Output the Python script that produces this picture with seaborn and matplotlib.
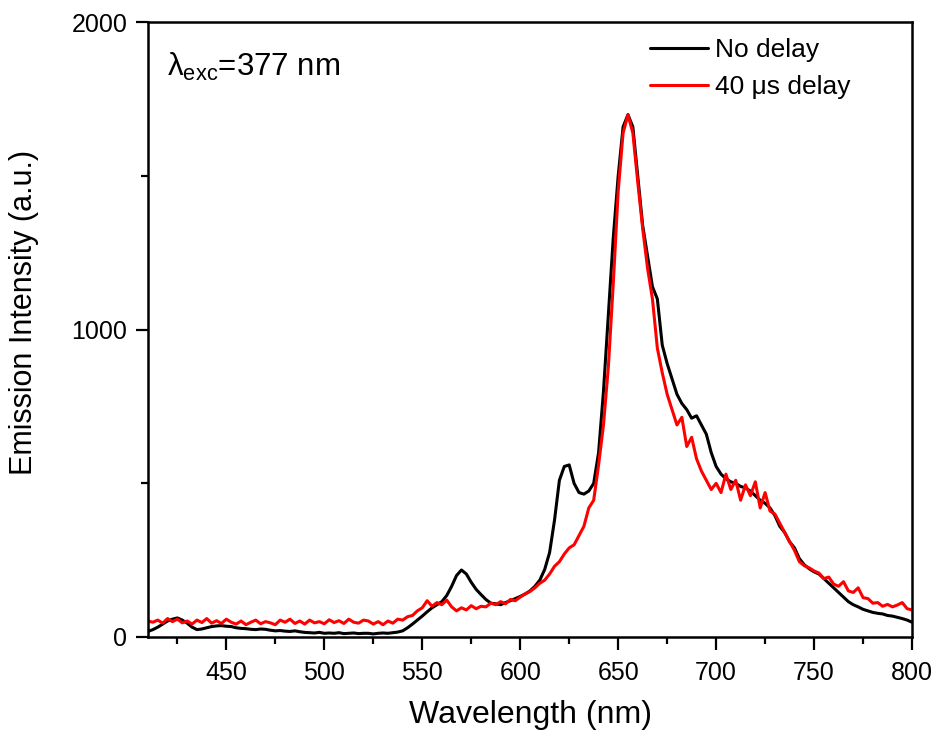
import numpy as np
import pandas as pd
import matplotlib
matplotlib.use("Agg")
import matplotlib.pyplot as plt
from matplotlib.ticker import MultipleLocator
import seaborn as sns

# wavelength grid (nm)
wavelength = [410 + 2.5 * i for i in range(157)]

no_delay = [
    18, 24, 32, 42, 52, 58, 62, 55, 45, 32,
    24, 26, 30, 34, 36, 37, 35, 34, 30, 28,
    27, 25, 24, 26, 25, 22, 20, 21, 19, 18,
    20, 17, 15, 14, 13, 15, 12, 13, 12, 14,
    11, 12, 13, 11, 12, 12, 10, 12, 13, 12,
    14, 16, 20, 30, 42, 55, 68, 82, 95, 105,
    115, 135, 165, 200, 218, 205, 178, 155, 138, 122,
    110, 108, 105, 112, 118, 125, 132, 140, 150, 165,
    185, 220, 275, 380, 510, 555, 560, 500, 470, 465,
    475, 500, 600, 800, 1050, 1300, 1500, 1660, 1700, 1660,
    1500, 1340, 1240, 1140, 1100, 950, 890, 840, 790, 760,
    740, 712, 720, 690, 660, 600, 555, 530, 515, 505,
    500, 490, 485, 475, 460, 445, 435, 420, 395, 360,
    340, 310, 290, 255, 235, 222, 212, 205, 190, 175,
    160, 145, 130, 115, 105, 98, 90, 85, 80, 77,
    75, 70, 68, 64, 60, 55, 48,
]

delay_40us = [
    52, 48, 55, 45, 60, 50, 58, 46, 52, 42,
    55, 47, 60, 45, 53, 44, 58, 48, 42, 52,
    40, 48, 55, 43, 50, 46, 40, 55, 48, 58,
    44, 52, 42, 55, 46, 50, 43, 56, 47, 53,
    44, 58, 48, 45, 55, 52, 42, 50, 40, 52,
    45, 58, 55, 66, 70, 85, 95, 118, 100, 112,
    105, 120, 98, 85, 95, 88, 102, 92, 100, 98,
    110, 105, 115, 108, 122, 118, 130, 140, 148, 160,
    175, 185, 205, 230, 245, 270, 290, 300, 330, 360,
    420, 445, 560, 690, 880, 1150, 1450, 1640, 1700, 1640,
    1480, 1330, 1200, 1100, 940, 860, 790, 740, 690, 715,
    620, 650, 580, 540, 510, 480, 500, 470, 530, 480,
    510, 445, 495, 460, 505, 420, 470, 410, 400, 370,
    340, 310, 282, 245, 232, 225, 215, 208, 190, 195,
    172, 165, 180, 150, 145, 160, 128, 125, 110, 112,
    100, 106, 98, 104, 112, 92, 88,
]

series_names = ["No delay", "40 \u03bcs delay"]
colors = ["black", "red"]

df = pd.concat([
    pd.DataFrame({"Wavelength": wavelength, "Intensity": no_delay, "Series": series_names[0]}),
    pd.DataFrame({"Wavelength": wavelength, "Intensity": delay_40us, "Series": series_names[1]}),
])

sns.set_style("ticks")
plt.rcParams["font.family"] = ["Liberation Sans", "DejaVu Sans"]
plt.rcParams["mathtext.fontset"] = "custom"
plt.rcParams["mathtext.rm"] = "Liberation Sans"
plt.rcParams["mathtext.it"] = "Liberation Sans:italic"
for k in ["text.color", "axes.labelcolor", "xtick.color", "ytick.color", "axes.edgecolor"]:
    plt.rcParams[k] = "black"

fig = plt.figure(figsize=(9.36, 7.32), dpi=100)
ax = fig.add_axes([0.1581, 0.1298, 0.8163, 0.8395])

sns.lineplot(data=df, x="Wavelength", y="Intensity", hue="Series",
             palette=dict(zip(series_names, colors)), hue_order=series_names,
             linewidth=2.2, ax=ax, legend=True, sort=False, estimator=None)

ax.set_xlim(410, 800)
ax.set_ylim(0, 2000)
ax.xaxis.set_major_locator(MultipleLocator(50))
ax.xaxis.set_minor_locator(MultipleLocator(25))
ax.yaxis.set_major_locator(MultipleLocator(1000))
ax.yaxis.set_minor_locator(MultipleLocator(500))
ax.tick_params(which="major", direction="out", length=9, width=1.6, labelsize=18, pad=6)
ax.tick_params(axis="x", which="major", pad=8)
ax.tick_params(which="minor", direction="out", length=4.8, width=1.6)
for s in ax.spines.values():
    s.set_linewidth(1.8)
    s.set_visible(True)

ax.set_xlabel("Wavelength (nm)", fontsize=23)
ax.xaxis.set_label_coords(0.501, -0.102)
ax.set_ylabel("Emission Intensity (a.u.)", fontsize=22)
ax.yaxis.set_label_coords(-0.143, 0.528)

ax.text(0.025, 0.927, r"$\mathrm{\lambda_{exc}}$=377 nm", transform=ax.transAxes,
        fontsize=22.5, va="center", ha="left")

leg = ax.legend(loc="upper left", bbox_to_anchor=(0.657, 0.975), frameon=False,
                fontsize=19, handlelength=2.2, handletextpad=0.27,
                borderpad=0, borderaxespad=0, labelspacing=0.5)
for line in leg.get_lines():
    line.set_linewidth(2.2)

fig.savefig("out.png", dpi=100)
